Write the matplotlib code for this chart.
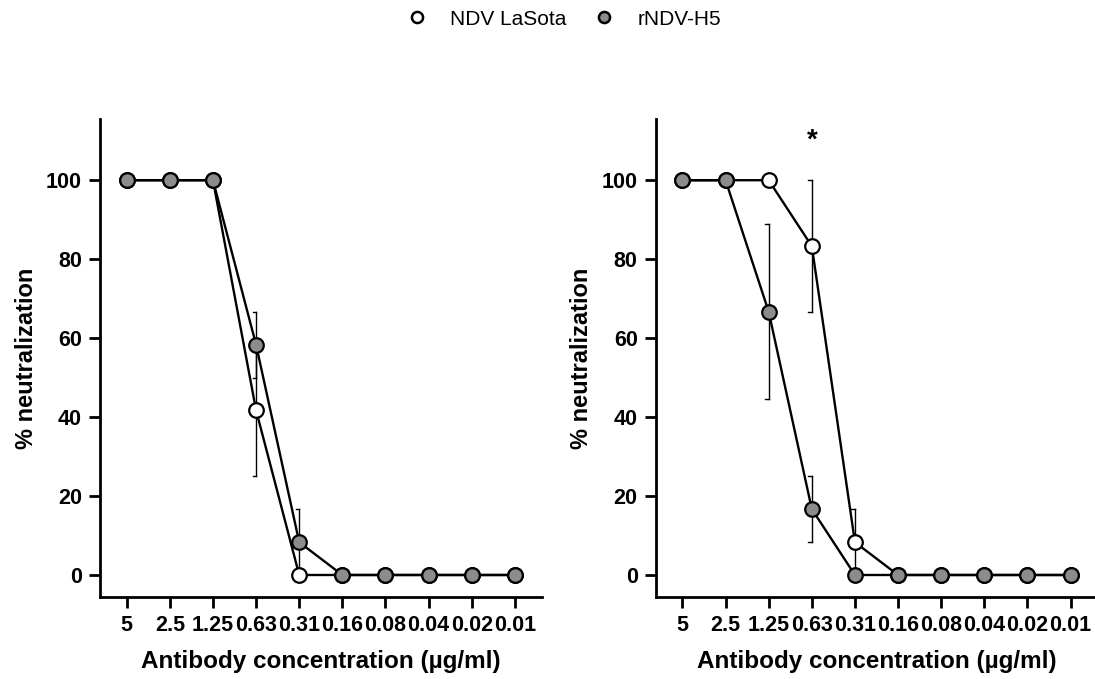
import matplotlib
matplotlib.use('Agg')
import matplotlib.pyplot as plt
import numpy as np

plt.rcParams['font.family'] = ['Liberation Sans', 'DejaVu Sans']

conc_labels = ['5', '2.5', '1.25', '0.63', '0.31', '0.16', '0.08', '0.04', '0.02', '0.01']

# panel 1
lasota_1 = [100, 100, 100, 41.7, 0, 0, 0, 0, 0, 0]
lasota_1_err = [0, 0, 0, 16.7, 0, 0, 0, 0, 0, 0]
h5_1 = [100, 100, 100, 58.3, 8.3, 0, 0, 0, 0, 0]
h5_1_err = [0, 0, 0, 8.3, 8.3, 0, 0, 0, 0, 0]

# panel 2
lasota_2 = [100, 100, 100, 83.3, 8.3, 0, 0, 0, 0, 0]
lasota_2_err = [0, 0, 0, 16.7, 8.3, 0, 0, 0, 0, 0]
h5_2 = [100, 100, 66.7, 16.7, 0, 0, 0, 0, 0, 0]
h5_2_err = [0, 0, 22.2, 8.3, 0, 0, 0, 0, 0, 0]

gray = '#8c8c8c'


def err_bars(ax, x, y, e):
    # GraphPad style: thin bar, cap only on the left side
    cap = 0.08
    for xi, yi, ei in zip(x, y, e):
        if ei <= 0:
            continue
        ax.plot([xi, xi], [yi - ei, yi + ei], color='black', lw=1, zorder=2)
        for yc in (yi - ei, yi + ei):
            ax.plot([xi - cap, xi], [yc, yc], color='black', lw=1, zorder=2)


def panel(ax, lasota, lasota_err, h5, h5_err):
    x = np.arange(len(conc_labels))
    err_bars(ax, x, lasota, lasota_err)
    err_bars(ax, x, h5, h5_err)
    ax.plot(x, lasota, color='black', lw=1.7, marker='o', ms=10.5,
            mfc='white', mec='black', mew=1.6, zorder=3)
    ax.plot(x, h5, color='black', lw=1.7, marker='o', ms=10.5,
            mfc=gray, mec='black', mew=1.6, zorder=4)

    ax.set_xlim(-0.62, 9.63)
    ax.set_ylim(-5.5, 115.5)
    ax.set_xticks(x)
    ax.set_xticklabels(conc_labels)
    ax.set_yticks([0, 20, 40, 60, 80, 100])
    for s in ['top', 'right']:
        ax.spines[s].set_visible(False)
    for s in ['left', 'bottom']:
        ax.spines[s].set_linewidth(2)
    ax.tick_params(width=2, length=8, labelsize=15.5, pad=5)
    for lab in ax.get_xticklabels() + ax.get_yticklabels():
        lab.set_fontweight('bold')
    ax.set_xlabel('Antibody concentration (µg/ml)', fontsize=17.5, fontweight='bold', labelpad=10)
    ax.set_ylabel('% neutralization', fontsize=17, fontweight='bold', labelpad=6)


fig = plt.figure(figsize=(10.95, 6.79), dpi=100)
ax1 = fig.add_axes([0.0913, 0.1212, 0.4037, 0.7035])
ax2 = fig.add_axes([0.5988, 0.1212, 0.4037, 0.7035])

panel(ax1, lasota_1, lasota_1_err, h5_1, h5_1_err)
panel(ax2, lasota_2, lasota_2_err, h5_2, h5_2_err)

ax2.text(3, 110, '*', ha='center', va='center', fontsize=20, fontweight='bold')

# legend at top
h1, = ax1.plot([], [], ls='none', marker='o', ms=8, mfc='white', mec='black', mew=1.8)
h2, = ax1.plot([], [], ls='none', marker='o', ms=8, mfc=gray, mec='black', mew=1.8)
fig.legend([h1, h2], ['NDV LaSota', 'rNDV-H5'], loc='center', bbox_to_anchor=(0.51, 0.972),
           ncol=2, frameon=False, fontsize=15, handletextpad=0.6, columnspacing=0.8)

fig.savefig('out.png', dpi=100)
